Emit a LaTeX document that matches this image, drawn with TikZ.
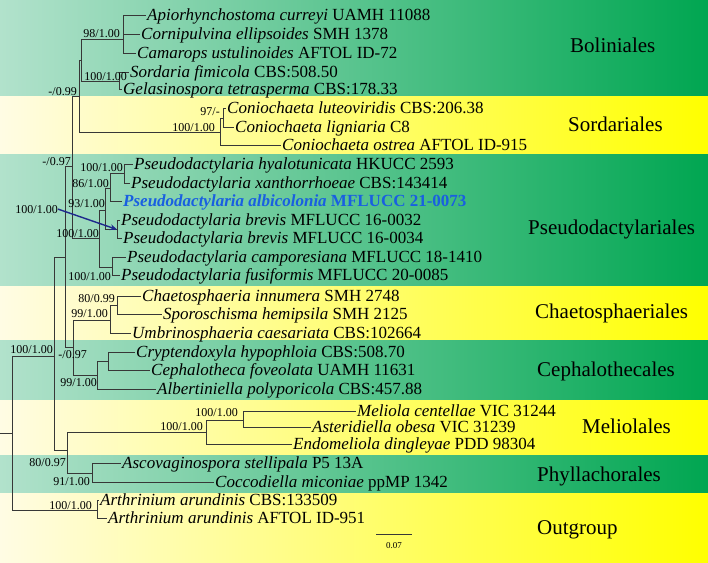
\documentclass[tikz,border=0pt]{standalone}
\usepackage{fontspec}
\setmainfont{Liberation Serif}
\usetikzlibrary{arrows.meta}
\definecolor{gL}{RGB}{178,226,204}
\definecolor{gM}{RGB}{70,188,128}
\definecolor{gR}{RGB}{0,166,81}
\definecolor{yL}{RGB}{255,252,228}
\definecolor{yM}{RGB}{255,250,175}
\definecolor{yR}{RGB}{255,255,0}
\definecolor{linec}{RGB}{55,55,55}
\definecolor{arrowc}{RGB}{30,40,140}
\definecolor{bluet}{RGB}{25,95,225}
\tikzset{
  br/.style={draw=linec, line width=0.9pt, line join=miter},
  leaf/.style={anchor=west, inner xsep=1.5pt, inner ysep=0pt, text height=12pt, text depth=2pt, font=\fontsize{17}{20}\selectfont},
  supl/.style={anchor=base east, inner sep=0pt, font=\fontsize{12}{14}\selectfont},
  clade/.style={anchor=west, inner sep=0pt, text height=14pt, text depth=0pt, font=\fontsize{21}{24}\selectfont},
  greenband/.style={left color=gL, middle color=gM, right color=gR},
  yellowband/.style={left color=yL, middle color=yM, right color=yR},
  arr/.style={draw=arrowc, line width=1.4pt, -{Stealth[length=7pt,width=6pt]}}
}
\begin{document}
\begin{tikzpicture}[x=1pt,y=-1pt]
\useasboundingbox (0,0) rectangle (708,562);
% background bands
\shade[greenband] (0,0) rectangle (708,96.5);
\shade[yellowband] (0,96.5) rectangle (708,154);
\shade[greenband] (0,154) rectangle (708,286.5);
\shade[yellowband] (0,286.5) rectangle (708,340.5);
\shade[greenband] (0,340.5) rectangle (708,400);
\shade[yellowband] (0,400) rectangle (708,455);
\shade[greenband] (0,455) rectangle (708,493);
\shade[yellowband] (0,493) rectangle (708,562);

% leaves
\node[leaf] (t1) at (145.5,15) {\textit{Apiorhynchostoma curreyi} UAMH 11088};
\node[leaf] (t2) at (139.5,34) {\textit{Cornipulvina ellipsoides} SMH 1378};
\node[leaf] (t3) at (135.5,53) {\textit{Camarops ustulinoides} AFTOL ID-72};
\node[leaf] (t4) at (128.5,72) {\textit{Sordaria fimicola} CBS:508.50};
\node[leaf] (t5) at (121.5,89.5) {\textit{Gelasinospora tetrasperma} CBS:178.33};
\node[leaf] (t6) at (225.5,108) {\textit{Coniochaeta luteoviridis} CBS:206.38};
\node[leaf] (t7) at (233.5,127) {\textit{Coniochaeta ligniaria} C8};
\node[leaf] (t8) at (280.5,145) {\textit{Coniochaeta ostrea} AFTOL ID-915};
\node[leaf] (t9) at (132.5,164) {\textit{Pseudodactylaria hyalotunicata} HKUCC 2593};
\node[leaf] (t10) at (129.5,183) {\textit{Pseudodactylaria xanthorrhoeae} CBS:143414};
\node[leaf, text=bluet] (t11) at (121.5,201.5) {\textbf{\textit{Pseudodactylaria albicolonia} MFLUCC 21-0073}};
\node[leaf] (t12) at (119.5,220) {\textit{Pseudodactylaria brevis} MFLUCC 16-0032};
\node[leaf] (t13) at (121.5,238.5) {\textit{Pseudodactylaria brevis} MFLUCC 16-0034};
\node[leaf] (t14) at (125.5,257) {\textit{Pseudodactylaria camporesiana} MFLUCC 18-1410};
\node[leaf] (t15) at (119.5,275.5) {\textit{Pseudodactylaria fusiformis} MFLUCC 20-0085};
\node[leaf] (t16) at (140.5,296) {\textit{Chaetosphaeria innumera} SMH 2748};
\node[leaf] (t17) at (161.5,314) {\textit{Sporoschisma hemipsila} SMH 2125};
\node[leaf] (t18) at (130.5,333) {\textit{Umbrinosphaeria caesariata} CBS:102664};
\node[leaf] (t19) at (134.5,352) {\textit{Cryptendoxyla hypophloia} CBS:508.70};
\node[leaf] (t20) at (149.5,370) {\textit{Cephalotheca foveolata} UAMH 11631};
\node[leaf] (t21) at (155.5,389) {\textit{Albertiniella polyporicola} CBS:457.88};
\node[leaf] (t22) at (355.5,411) {\textit{Meliola centellae} VIC 31244};
\node[leaf] (t23) at (310.5,427) {\textit{Asteridiella obesa} VIC 31239};
\node[leaf] (t24) at (291.5,444.5) {\textit{Endomeliola dingleyae} PDD 98304};
\node[leaf] (t25) at (120.5,463.5) {\textit{Ascovaginospora stellipala} P5 13A};
\node[leaf] (t26) at (213.5,482) {\textit{Coccodiella miconiae} ppMP 1342};
\node[leaf] (t27) at (98.5,500) {\textit{Arthrinium arundinis} CBS:133509};
\node[leaf] (t28) at (106.5,518) {\textit{Arthrinium arundinis} AFTOL ID-951};

% internal nodes
\coordinate (R0) at (0,433);
\coordinate (R) at (12,433);
\coordinate (N54) at (54,356);
\coordinate (OG) at (97,510);
\coordinate (N65) at (65,257);
\coordinate (N67) at (67,450);
\coordinate (A73) at (72.5,166);
\coordinate (B73) at (73,347);
\coordinate (N79) at (79,96);
\coordinate (P0) at (99,238);
\coordinate (N81) at (81,60);
\coordinate (C220) at (220,132);
\coordinate (N123) at (123,39);
\coordinate (N119) at (119,81);
\coordinate (N223) at (223,118);
\coordinate (N105) at (105,210);
\coordinate (N112) at (112,267);
\coordinate (N110) at (110,188);
\coordinate (N117) at (117,229.5);
\coordinate (N124) at (124,173);
\coordinate (N110c) at (110,320);
\coordinate (N97) at (97,375);
\coordinate (N117c) at (117,305);
\coordinate (N108) at (108,361);
\coordinate (N206) at (206,432);
\coordinate (N243) at (243,420);
\coordinate (N92) at (92,473);

% branches
\draw[br] (R0) -- (R);
\draw[br] (R) |- (N54);  \draw[br] (R) |- (OG);
\draw[br] (N54) |- (N65); \draw[br] (N54) |- (N67);
\draw[br] (N65) |- (A73); \draw[br] (N65) |- (B73);
\draw[br] (A73) |- (N79); \draw[br] (A73) |- (P0);
\draw[br] (N79) |- (N81); \draw[br] (N79) |- (C220);
\draw[br] (N81) |- (N123); \draw[br] (N81) |- (N119);
\draw[br] (N123) |- (t1.west); \draw[br] (N123) |- (t2.west); \draw[br] (N123) |- (t3.west);
\draw[br] (N119) |- (t4.west); \draw[br] (N119) |- (t5.west);
\draw[br] (C220) |- (N223); \draw[br] (C220) |- (t8.west);
\draw[br] (N223) |- (t6.west); \draw[br] (N223) |- (t7.west);
\draw[br] (P0) |- (N105); \draw[br] (P0) |- (N112);
\draw[br] (N105) |- (N110); \draw[br] (N105) |- (N117);
\draw[br] (N110) |- (N124); \draw[br] (N110) |- (t11.west);
\draw[br] (N124) |- (t9.west); \draw[br] (N124) |- (t10.west);
\draw[br] (N117) |- (t12.west); \draw[br] (N117) |- (t13.west);
\draw[br] (N112) |- (t14.west); \draw[br] (N112) |- (t15.west);
\draw[br] (B73) |- (N110c); \draw[br] (B73) |- (N97);
\draw[br] (N110c) |- (N117c); \draw[br] (N110c) |- (t18.west);
\draw[br] (N117c) |- (t16.west); \draw[br] (N117c) |- (t17.west);
\draw[br] (N97) |- (N108); \draw[br] (N97) |- (t21.west);
\draw[br] (N108) |- (t19.west); \draw[br] (N108) |- (t20.west);
\draw[br] (N67) |- (N206); \draw[br] (N67) |- (N92);
\draw[br] (N206) |- (N243); \draw[br] (N206) |- (t24.west);
\draw[br] (N243) |- (t22.west); \draw[br] (N243) |- (t23.west);
\draw[br] (N92) |- (t25.west); \draw[br] (N92) |- (t26.west);
\draw[br] (OG) |- (t27.west); \draw[br] (OG) |- (t28.west);

% support values
\node[supl] (s1) at (120,37) {98/1.00};
\node[supl] (s2) at (127,80) {100/1.00};
\node[supl] (s3) at (77,95) {-/0.99};
\node[supl] (s4) at (220,115) {97/-};
\node[supl] (s5) at (215,131) {100/1.00};
\node[supl] (s6) at (71,165) {-/0.97};
\node[supl] (s7) at (123,171) {100/1.00};
\node[supl] (s8) at (109,187) {86/1.00};
\node[supl] (s9) at (105,207) {93/1.00};
\node[supl] (s10) at (58,213) {100/1.00};
\node[supl] (s11) at (99,237) {100/1.00};
\node[supl] (s12) at (111,280) {100/1.00};
\node[supl] (s13) at (115,302) {80/0.99};
\node[supl] (s14) at (108,317) {99/1.00};
\node[supl] (s15) at (53,353) {100/1.00};
\node[supl] (s16) at (87,358) {-/0.97};
\node[supl] (s17) at (97,386) {99/1.00};
\node[supl] (s18) at (238,416) {100/1.00};
\node[supl] (s19) at (203,430) {100/1.00};
\node[supl] (s20) at (66,466) {80/0.97};
\node[supl] (s21) at (90,485) {91/1.00};
\node[supl] (s22) at (92,509) {100/1.00};

% arrow
\draw[arr] (s10.east) -- (N117);

% clade names
\node[clade] (c1) at (570,45) {Boliniales};
\node[clade] (c2) at (568,124) {Sordariales};
\node[clade] (c3) at (528,227) {Pseudodactylariales};
\node[clade] (c4) at (535,311) {Chaetosphaeriales};
\node[clade] (c5) at (537,369) {Cephalothecales};
\node[clade] (c6) at (582,426) {Meliolales};
\node[clade] (c7) at (537,474) {Phyllachorales};
\node[clade] (c8) at (537,527) {Outgroup};

% scale bar
\coordinate (sbL) at (376,534);
\coordinate (sbR) at (412,534);
\draw[br, line width=0.7pt] (sbL) -- (sbR);
\node[inner sep=0pt, font=\fontsize{9}{10}\selectfont] (sbt) at (394,546) {0.07};
\end{tikzpicture}
\end{document}
